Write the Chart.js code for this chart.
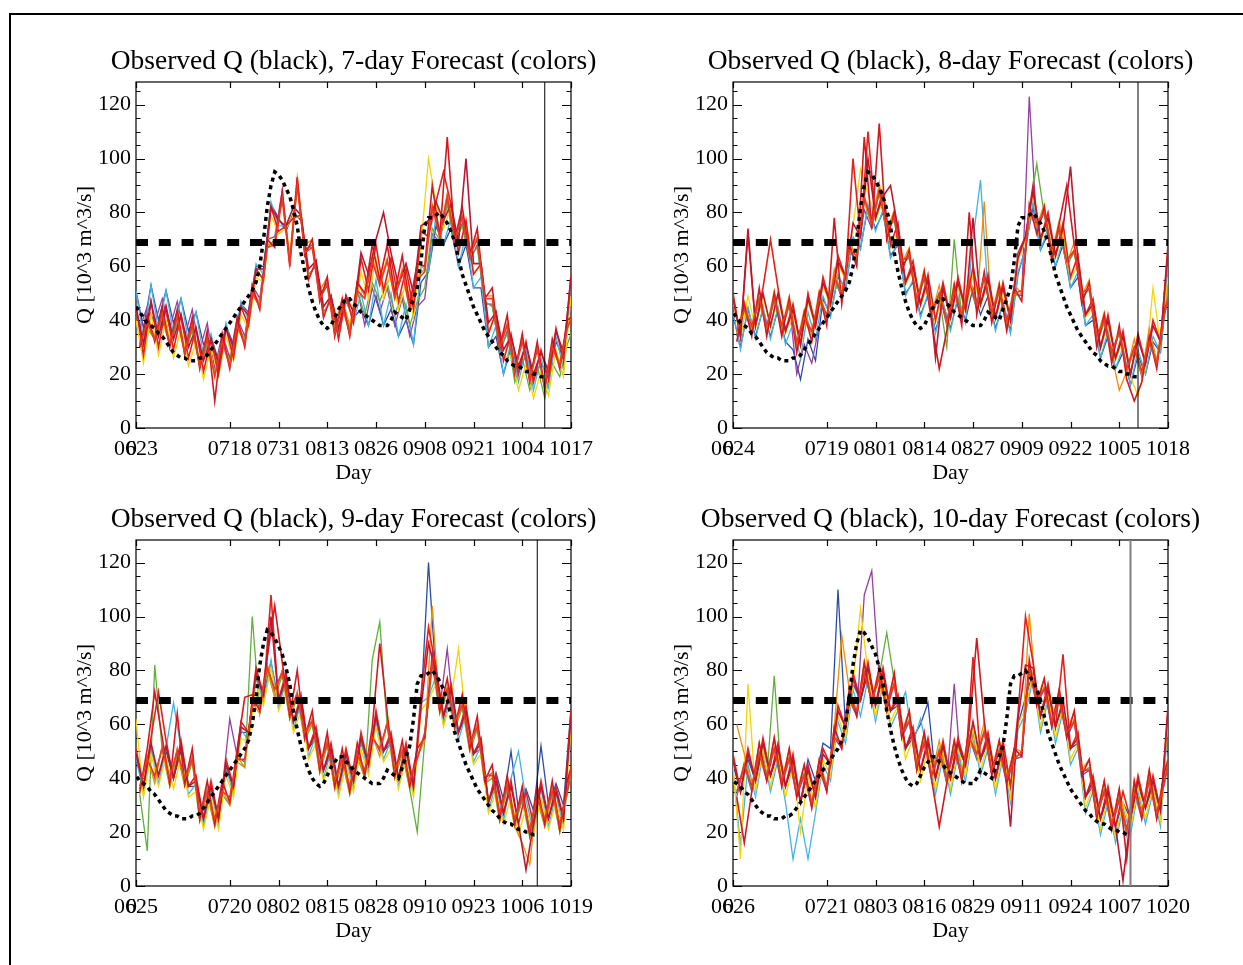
<!DOCTYPE html>
<html>
<head>
<meta charset="utf-8">
<script src="https://cdn.jsdelivr.net/npm/chart.js@4.4.1/dist/chart.umd.min.js"></script>
<style>
  body { margin: 0; background: #fff; }
  #page { position: relative; width: 1243px; height: 965px; overflow: hidden; }
  #frame { position: absolute; left: 9px; top: 13px; width: 1240px; height: 960px;
           border-left: 2px solid #000; border-top: 2px solid #000; }
  canvas { position: absolute; }
</style>
</head>
<body>
<div id="page">
  <div id="frame"></div>
  <canvas id="c7" width="600" height="461" style="left:40px;top:30px"></canvas>
  <canvas id="c8" width="600" height="461" style="left:637px;top:30px"></canvas>
  <canvas id="c9" width="600" height="461" style="left:40px;top:488px"></canvas>
  <canvas id="c10" width="600" height="461" style="left:637px;top:488px"></canvas>
</div>
<script>
// day 0 = 0623, observed Q (10^3 m^3/s), one value per day up to the forecast date
const obsQ = [
  45,43,41,39,38,37,35,34,32,30,
  28,27,26,26,25,25,25,26,26,27,
  29,31,33,35,37,39,41,43,45,47,
  49,51,54,60,70,82,90,95,94,92,
  89,86,81,75,65,58,52,47,43,40,
  38,37,38,41,44,46,48,48,46,45,
  43,42,41,40,39,38,38,38,40,43,
  42,41,40,44,48,52,62,75,78,78,
  79,80,78,76,73,69,63,57,53,49,
  45,42,39,36,34,32,30,28,27,25,
  24,23,23,22,21,21,20,20,19,19
];
const threshold = 68.8;
const issueDay = 109;

// tick days (from each panel's first day) and their labels
const tickDays = [0, 25, 38, 51, 64, 77, 90, 103, 116];
const labels7 = ['0623','0718','0731','0813','0826','0908','0921','1004','1017'];
const labels8 = ['0624','0719','0801','0814','0827','0909','0922','1005','1018'];
const labels9 = ['0625','0720','0802','0815','0828','0910','0923','1006','1019'];
const labels10 = ['0626','0721','0803','0816','0829','0911','0924','1007','1020'];
const yTicks = [0, 20, 40, 60, 80, 100, 120];

const memberColors = ['#2c4ca8','#9440a0','#40b4e4','#62ae3a','#f6d400','#f28c00','#e4201c','#d41820','#b81830','#ea3a24'];

// ensemble members, one value every 2 days (odd members one day later)
// 7-day forecast
const d7Blue = [51,37,53,40,51,39,48,36,43,31, 34,25,38,31,46,43,60,60,83,78, 73,80,77,57,60,43,47,35,47,41, 44,38,49,38,44,34,40,31,54,58, 75,68,74,60,68,52,52,30,34,20, 30,21,27,18,24,19,32,26,52];
const d7Purple = [37,45,39,48,37,47,34,44,29,39, 22,35,26,41,34,53,48,70,71,88, 62,91,66,68,49,54,36,46,36,52, 38,52,43,52,38,48,34,45,48,72, 69,84,68,76,62,68,46,46,28,36, 22,33,19,30,16,31,24,38,44];
const d7Cyan = [51,33,53,36,51,35,48,32,43,27, 35,22,39,28,47,40,61,57,84,75, 75,78,79,55,62,41,49,33,49,39, 50,38,55,38,50,34,46,31,60,58, 79,68,78,60,72,52,56,30,38,20, 32,17,29,14,26,15,34,22,54];
const d7Green = [31,37,33,40,31,39,28,36,23,31, 21,32,25,38,33,50,47,67,70,85, 63,90,67,67,50,53,37,45,37,51, 42,54,47,54,42,50,38,47,52,74, 70,83,69,75,63,67,47,45,29,35, 17,26,14,23,11,24,19,31,39];
const d7Yellow = [40,24,42,27,40,26,37,23,32,18, 30,19,34,25,42,37,56,54,79,72, 74,79,78,56,61,42,48,34,48,40, 58,48,63,48,58,44,54,41,68,100, 83,74,82,66,76,58,60,36,42,26, 27,14,24,11,21,12,29,19,49];
const d7Orange = [32,40,34,43,32,42,29,39,24,34, 20,33,24,39,32,51,46,68,69,86, 64,93,68,70,51,56,38,48,38,54, 49,63,54,63,49,59,45,56,59,83, 72,87,71,79,65,71,49,49,31,39, 22,33,19,30,16,31,24,38,44];
const d7Red = [45,27,47,30,45,29,42,26,37,21, 33,20,37,26,45,38,59,55,82,73, 75,78,79,55,62,41,49,33,49,39, 63,51,68,51,63,47,59,44,73,71, 84,95,83,65,77,57,61,35,43,25, 35,20,32,17,29,18,37,25,57];
const d7Red2 = [30,42,32,45,30,44,27,41,22,36, 10,35,22,41,30,53,44,70,67,88, 60,93,64,70,47,56,34,48,34,54, 50,68,55,68,50,64,46,61,60,90, 71,108,70,82,64,74,48,52,30,42, 20,35,17,32,14,33,22,40,42];
const d7DarkRed = [45,31,47,34,45,33,42,30,37,25, 33,24,37,30,45,42,59,59,82,77, 75,82,79,59,62,45,49,37,49,43, 65,57,70,80,65,53,61,50,75,77, 84,77,83,69,100,61,61,39,43,29, 34,23,31,20,28,21,36,28,56];
const d7Red3 = [31,39,33,42,31,41,28,38,23,33, 19,32,23,38,31,50,45,67,68,85, 61,90,65,67,48,53,35,45,35,51, 48,62,53,62,48,58,44,55,58,82, 71,86,70,78,64,70,48,48,30,38, 21,32,18,29,15,30,23,37,43];
// 8-day forecast
const d8Blue = [42,30,44,34,44,34,44,32,29,18, 33,25,48,42,56,52,70,67,82,74, 80,64,68,50,54,42,49,36,46,37, 48,40,52,42,49,37,46,36,57,67, 82,66,72,60,68,52,56,38,40,26, 34,22,28,16,27,20,32,28,55];
const d8Purple = [34,44,36,48,36,48,36,46,20,31, 24,38,40,56,48,66,62,81,74,88, 72,78,60,64,46,56,41,50,38,51, 40,54,44,56,41,51,38,50,49,123, 74,80,64,74,60,66,48,52,32,40, 26,36,20,30,19,34,24,42,52];
const d8Cyan = [43,29,45,33,45,33,45,31,39,26, 43,33,49,41,57,51,71,66,83,73, 81,63,69,49,55,41,50,35,47,36, 49,39,70,92,50,36,47,35,58,66, 84,66,74,60,70,52,58,38,42,26, 36,22,30,16,29,20,34,28,60];
const d8Green = [35,43,37,47,37,47,37,45,31,40, 35,47,41,55,49,65,63,85,75,87, 73,77,61,63,47,55,42,49,30,70, 41,53,45,55,42,50,39,49,50,80, 98,79,65,73,61,65,49,51,31,39, 27,35,21,29,20,33,25,41,62];
const d8Yellow = [47,33,49,37,49,37,49,35,43,30, 47,37,53,45,61,55,75,96,87,77, 85,67,73,53,59,45,54,39,51,40, 53,43,57,45,54,40,51,39,62,70, 87,69,77,63,73,55,61,41,45,29, 39,25,33,19,12,23,52,31,56];
const d8Orange = [35,47,37,51,37,51,37,49,31,44, 35,51,41,59,49,69,63,84,75,91, 73,81,61,67,47,59,42,53,39,54, 41,57,45,84,42,54,39,53,50,79, 75,83,65,77,61,69,49,55,33,43, 27,14,21,33,20,37,25,45,53];
const d8Red = [50,34,72,38,52,70,52,36,46,31, 50,38,56,46,64,56,100,71,110,78, 88,68,76,54,62,46,57,40,54,41, 56,44,60,46,57,41,54,40,65,71, 90,70,80,64,76,56,64,42,48,30, 42,26,36,20,35,24,40,32,68];
const d8Red2 = [32,46,34,52,34,50,34,48,28,43, 32,50,38,78,46,68,60,108,74,113, 70,80,58,66,44,58,39,22,36,53, 38,80,42,58,39,53,36,52,47,83, 72,82,62,76,90,68,46,54,30,42, 24,38,18,10,17,34,22,44,50];
const d8DarkRed = [48,34,74,38,50,38,50,36,44,31, 48,38,54,46,62,56,76,71,100,78, 86,90,74,54,60,46,55,26,52,41, 54,44,78,46,55,41,52,40,63,71, 88,70,78,64,74,97,62,42,46,30, 40,26,34,20,33,24,38,32,66];
const d8Red3 = [36,44,38,48,38,48,38,46,32,41, 36,48,42,56,50,66,64,86,76,88, 74,78,62,64,48,56,43,50,40,51, 42,54,46,56,43,51,40,50,51,81, 76,80,66,74,62,66,50,52,34,40, 28,36,22,30,21,32,24,42,54];
// 9-day forecast
const d9Blue = [47,37,51,41,50,40,50,37,37,25, 35,25,43,37,57,57,77,71,83,69, 75,61,67,51,55,43,49,37,47,39, 53,45,61,50,53,40,49,37,67,120, 77,63,71,57,63,49,51,31,42,32, 50,28,36,28,52,30,38,30,66];
const d9Purple = [36,48,40,52,39,51,39,48,26,36, 24,36,62,48,46,68,66,82,72,80, 64,72,56,62,44,54,38,48,36,50, 42,56,50,61,42,51,38,48,56,84, 66,88,60,68,52,60,40,42,26,38, 24,34,20,34,24,36,22,36,50];
const d9Cyan = [48,34,52,38,51,68,51,34,38,22, 36,22,44,34,58,54,78,68,84,66, 76,58,68,48,56,40,50,34,48,36, 54,42,62,47,54,37,50,34,68,70, 78,60,72,54,64,46,52,28,38,24, 40,50,32,20,36,22,34,22,62];
const d9Green = [34,13,82,50,37,49,37,46,24,34, 22,34,30,46,44,100,64,80,70,78, 62,70,54,60,42,52,36,46,34,48, 40,84,98,59,40,49,36,20,54,82, 64,72,58,66,50,58,38,40,24,36, 22,32,18,32,22,34,20,34,48];
const d9Yellow = [62,33,49,37,48,36,48,33,35,21, 33,21,41,33,55,53,75,67,81,65, 73,57,65,47,53,39,47,33,45,35, 51,41,59,46,51,36,47,33,65,69, 75,59,69,88,61,45,49,27,35,23, 33,19,29,19,33,21,31,21,59];
const d9Orange = [34,48,38,52,37,51,37,48,24,36, 22,36,30,48,44,68,64,82,70,80, 62,72,54,62,42,54,36,48,34,50, 40,56,48,61,40,51,36,48,54,104, 64,74,58,68,50,60,38,42,24,38, 22,16,8,34,22,36,20,36,48];
const d9Red = [51,37,55,72,54,40,54,37,41,25, 39,25,47,37,61,57,81,71,108,69, 79,61,71,51,59,43,53,37,51,39, 57,45,65,50,57,40,53,37,71,96, 81,63,75,57,67,49,55,31,41,27, 39,23,35,23,39,25,37,25,65];
const d9Red2 = [35,51,72,55,38,64,38,51,25,39, 23,39,31,51,70,71,65,85,104,83, 63,80,55,65,43,57,37,51,35,53, 41,59,90,64,41,54,37,51,55,86, 65,77,59,71,51,63,39,45,25,41, 23,37,19,37,23,39,21,39,49];
const d9DarkRed = [49,37,53,41,52,40,52,37,39,25, 37,25,45,37,59,57,79,71,100,69, 77,61,69,51,57,43,51,37,49,39, 55,45,63,50,55,40,51,37,66,90, 79,63,73,57,65,49,53,31,39,27, 37,23,6,23,37,25,35,25,63];
const d9Red3 = [37,47,41,51,40,50,40,47,27,35, 25,35,33,47,47,67,67,81,73,79, 65,71,57,61,45,53,39,47,37,49, 43,55,51,60,43,50,39,47,57,83, 67,73,61,67,53,59,41,41,27,37, 25,33,21,33,25,35,23,35,51];
// 10-day forecast
const d10Blue = [45,35,47,39,51,41,49,37,45,31, 47,39,53,51,110,59,75,69,79,67, 77,65,67,51,55,60,68,40,50,40, 51,45,59,47,53,40,50,37,60,70, 79,63,71,59,67,51,53,33,37,25, 33,22,31,25,37,29,37,28,60];
const d10Purple = [33,45,35,49,39,51,37,47,33,41, 29,43,35,55,51,69,63,108,117,77, 65,75,55,61,43,53,39,50,38,75, 39,55,47,57,41,50,38,47,48,80, 67,73,59,69,55,61,41,43,25,35, 21,32,19,35,25,39,25,38,51];
const d10Cyan = [43,15,45,33,49,35,47,31,10,25, 10,27,45,39,61,53,73,63,77,61, 75,59,65,72,53,62,49,34,48,34, 49,39,57,41,51,34,48,31,58,64, 77,57,69,53,65,45,51,27,35,19, 31,16,29,19,35,23,35,22,61];
const d10Green = [34,46,36,50,40,78,38,48,34,42, 30,44,36,56,52,70,64,80,68,78, 94,76,56,62,44,54,40,51,39,51, 40,56,48,58,42,51,39,48,49,81, 68,74,60,70,56,62,42,44,26,36, 22,33,20,36,26,40,26,39,52];
const d10Yellow = [45,10,75,35,51,37,49,33,45,20, 41,29,47,41,63,55,75,103,79,63, 77,61,67,47,55,39,51,36,50,36, 51,41,59,43,53,36,50,33,60,66, 79,59,71,55,67,47,53,29,37,21, 33,18,31,21,37,25,37,24,63];
const d10Orange = [60,49,37,53,41,55,39,51,35,45, 31,47,37,59,93,73,65,83,69,81, 67,79,57,65,45,57,41,54,40,54, 41,59,49,61,43,54,40,51,50,101, 69,77,61,73,57,65,43,47,27,39, 23,36,21,39,27,43,27,42,53];
const d10Red = [49,35,51,39,55,41,53,37,49,31, 45,33,51,45,67,59,79,69,83,67, 81,65,71,51,59,43,55,40,54,40, 55,45,85,47,57,40,54,37,64,100, 83,63,75,59,86,51,57,33,41,25, 37,22,35,25,41,29,41,28,67];
const d10Red2 = [33,16,35,53,39,55,37,51,33,45, 29,47,35,59,51,73,63,83,67,81, 65,79,55,65,43,57,39,22,38,54, 39,59,92,61,41,54,38,51,48,84, 67,77,59,73,55,65,41,47,25,39, 21,36,10,39,25,43,25,42,51];
const d10DarkRed = [47,35,49,39,53,41,51,37,47,31, 43,33,49,45,65,59,77,69,81,67, 79,65,69,51,57,43,53,40,52,40, 53,45,61,47,55,40,52,22,62,82, 81,63,73,59,69,51,55,33,39,25, 35,22,2,25,39,29,39,28,65];
const d10Red3 = [35,45,37,49,41,51,39,47,35,41, 31,43,37,55,53,69,65,79,69,77, 67,75,57,61,45,53,41,50,40,50, 41,55,49,57,43,50,40,47,50,80, 69,73,61,69,57,61,43,43,27,35, 23,32,21,35,27,39,27,38,53];

const serif = "'Liberation Serif', 'Times New Roman', serif";

const panels = [
  { id: 'c7', start: 0, lead: 7, labels: labels7, vColor: '#000', vWidth: 1,
    members: [d7Blue, d7Purple, d7Cyan, d7Green, d7Yellow, d7Orange, d7Red, d7Red2, d7DarkRed, d7Red3] },
  { id: 'c8', start: 1, lead: 8, labels: labels8, vColor: '#000', vWidth: 1,
    members: [d8Blue, d8Purple, d8Cyan, d8Green, d8Yellow, d8Orange, d8Red, d8Red2, d8DarkRed, d8Red3] },
  { id: 'c9', start: 2, lead: 9, labels: labels9, vColor: '#000', vWidth: 1,
    members: [d9Blue, d9Purple, d9Cyan, d9Green, d9Yellow, d9Orange, d9Red, d9Red2, d9DarkRed, d9Red3] },
  { id: 'c10', start: 3, lead: 10, labels: labels10, vColor: '#808080', vWidth: 2,
    members: [d10Blue, d10Purple, d10Cyan, d10Green, d10Yellow, d10Orange, d10Red, d10Red2, d10DarkRed, d10Red3] }
];

// IDL style box with inward ticks, title centred over the plot box
const boxTicks = {
  id: 'boxTicks',
  beforeDatasetsDraw(chart) {
    const { ctx, chartArea: a, scales: { x, y } } = chart;
    ctx.save();
    ctx.strokeStyle = '#000';
    ctx.lineWidth = 1.2;
    ctx.strokeRect(a.left, a.top, a.right - a.left, a.bottom - a.top);
    ctx.beginPath();
    for (let v = 0; v <= 125; v += 5) {
      const py = Math.round(y.getPixelForValue(v)) + 0.5;
      const len = v % 20 === 0 ? 9 : 4.5;
      ctx.moveTo(a.left, py); ctx.lineTo(a.left + len, py);
      ctx.moveTo(a.right - len, py); ctx.lineTo(a.right, py);
    }
    x.ticks.forEach(t => {
      const px = Math.round(x.getPixelForValue(t.value)) + 0.5;
      ctx.moveTo(px, a.bottom); ctx.lineTo(px, a.bottom - 6);
      ctx.moveTo(px, a.top); ctx.lineTo(px, a.top + 6);
    });
    ctx.stroke();
    ctx.restore();
  },
  afterDraw(chart, args, opts) {
    const { ctx, chartArea: a, scales: { x } } = chart;
    ctx.save();
    ctx.fillStyle = '#000';
    ctx.textBaseline = 'middle';
    ctx.textAlign = 'center';
    ctx.font = '27.5px ' + serif;
    ctx.fillText(opts.text, (a.left + a.right) / 2, a.top - 20);
    // overlapping first date label, as in the original
    const label = chart.options.scales.x.ticks.callback(x.ticks[0].value, 0);
    ctx.font = '22px ' + serif;
    ctx.textAlign = 'left';
    const px = x.getPixelForValue(x.min);
    const w = ctx.measureText(label).width;
    const w0 = ctx.measureText('0').width;
    ctx.fillText('0', px - w / 2 + w0 + 1, x.top + 8 + 13.2);
    ctx.restore();
  }
};

panels.forEach(p => {
  const k = p.start;
  const memberSets = p.members.map((vals, j) => ({
    data: vals.map((v, i) => ({ x: k + (j % 2) + 2 * i, y: v })),
    borderColor: memberColors[j],
    borderWidth: j >= 6 ? 1.6 : 1.3,
    pointRadius: 0,
    tension: 0
  })).reverse();

  const datasets = [
    { data: [{ x: issueDay, y: 0 }, { x: issueDay, y: 128.4 }],
      borderColor: p.vColor, borderWidth: p.vWidth, pointRadius: 0 },
    { data: [{ x: k, y: threshold }, { x: k + 116, y: threshold }],
      borderColor: '#000', borderWidth: 7, borderDash: [12, 10.8], pointRadius: 0 },
    { data: obsQ.map((v, i) => ({ x: i, y: v })),
      borderColor: '#000', borderWidth: 3.5, borderDash: [4, 4], pointRadius: 0, tension: 0 },
    ...memberSets
  ];

  new Chart(document.getElementById(p.id).getContext('2d'), {
    type: 'line',
    data: { datasets },
    options: {
      responsive: false,
      animation: false,
      devicePixelRatio: 1,
      layout: { padding: { left: 32, right: 69, top: 52, bottom: 5 } },
      plugins: {
        legend: { display: false },
        tooltip: { enabled: false },
        title: { display: false },
        boxTicks: { text: 'Observed Q (black), ' + p.lead + '-day Forecast (colors)' }
      },
      scales: {
        x: {
          type: 'linear',
          min: k,
          max: k + 116,
          grid: { display: false, drawTicks: false },
          border: { display: false },
          afterBuildTicks: s => { s.ticks = tickDays.map(d => ({ value: d + k })); },
          afterFit: s => { s.height = 58; },
          ticks: {
            autoSkip: false, maxRotation: 0, color: '#000', padding: 8,
            font: { family: serif, size: 22 },
            callback: (v, i) => p.labels[i]
          },
          title: { display: true, text: 'Day', color: '#000', padding: 0,
                   font: { family: serif, size: 22 } }
        },
        y: {
          min: 0,
          max: 128.4,
          grid: { display: false, drawTicks: false },
          border: { display: false },
          afterBuildTicks: s => { s.ticks = yTicks.map(v => ({ value: v })); },
          afterFit: s => { s.width = 64; },
          ticks: { color: '#000', padding: 5, font: { family: serif, size: 22 } },
          title: { display: true, text: 'Q [10^3 m^3/s]', color: '#000', padding: 0,
                   font: { family: serif, size: 22 } }
        }
      }
    },
    plugins: [boxTicks]
  });
});
</script>
</body>
</html>
